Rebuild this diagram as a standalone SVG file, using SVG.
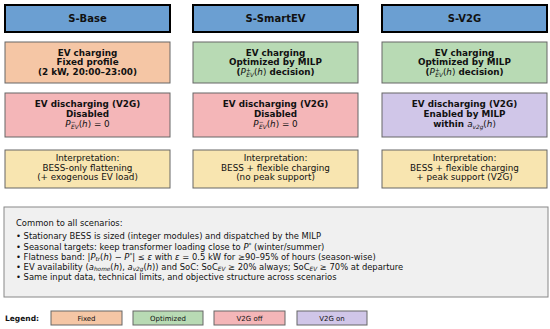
<svg xmlns="http://www.w3.org/2000/svg" width="550" height="329" viewBox="0 0 550 329">
<style>
text{font-family:"DejaVu Sans","Liberation Sans",sans-serif;fill:#111}
.hd{fill:#6b9fd2;stroke:#000;stroke-width:2}
.bx{stroke:#666;stroke-width:1}
.fx{fill:#f5c6a5}.op{fill:#b8dab4}.off{fill:#f4b6b8}.on{fill:#d0c6e8}.ip{fill:#f8e5b0}
.ht{font-size:10px;font-weight:bold;text-anchor:middle}
.bt{font-size:8.8px;font-weight:bold;text-anchor:middle}
.nt{font-size:8.8px;text-anchor:middle}
.ct{font-size:8.4px}
.lg{font-size:7px;text-anchor:middle}
.it{font-style:italic}
.sb{font-size:5.8px}
</style>
<rect width="550" height="329" fill="#fff"/>
<g id="col-base">
<g id="h-base"><rect class="hd" x="5" y="5" width="165" height="27"/><text class="ht" x="87.5" y="22">S-Base</text></g>
<g id="c-base"><rect class="bx fx" x="5" y="42" width="165" height="41"/>
<text class="bt" x="87.5" y="55.5">EV charging</text><text class="bt" x="87.5" y="65.3">Fixed profile</text><text class="bt" x="87.5" y="75.2">(2 kW, 20:00–23:00)</text></g>
<g id="d-base"><rect class="bx off" x="5" y="93" width="165" height="44"/>
<text class="bt" x="87.5" y="107.3">EV discharging (V2G)</text><text class="bt" x="87.5" y="117">Disabled</text>
<text class="nt" x="87.5" y="127"><tspan class="it">P</tspan><tspan class="it sb" dy="-3">−</tspan><tspan class="it sb" dx="-4.5" dy="5">EV</tspan><tspan dy="-2">(</tspan><tspan class="it">h</tspan>) = 0</text></g>
<g id="i-base"><rect class="bx ip" x="5" y="150" width="165" height="38"/>
<text class="nt" x="87.5" y="161">Interpretation:</text><text class="nt" x="87.5" y="170.5">BESS-only flattening</text><text class="nt" x="87.5" y="180">(+ exogenous EV load)</text></g>
</g>
<g id="col-smart">
<g id="h-smart"><rect class="hd" x="193" y="5" width="165" height="27"/><text class="ht" x="275.5" y="22">S-SmartEV</text></g>
<g id="c-smart"><rect class="bx op" x="193" y="42" width="165" height="41"/>
<text class="bt" x="275.5" y="55.5">EV charging</text><text class="bt" x="275.5" y="65.3">Optimized by MILP</text>
<text class="bt" x="275.5" y="75.2">(<tspan class="it" font-weight="normal">P</tspan><tspan class="it sb" font-weight="normal" dy="-3">+</tspan><tspan class="it sb" font-weight="normal" dx="-4.5" dy="5">EV</tspan><tspan font-weight="normal" dy="-2">(</tspan><tspan class="it" font-weight="normal">h</tspan><tspan font-weight="normal">)</tspan> decision)</text></g>
<g id="d-smart"><rect class="bx off" x="193" y="93" width="165" height="44"/>
<text class="bt" x="275.5" y="107.3">EV discharging (V2G)</text><text class="bt" x="275.5" y="117">Disabled</text>
<text class="nt" x="275.5" y="127"><tspan class="it">P</tspan><tspan class="it sb" dy="-3">−</tspan><tspan class="it sb" dx="-4.5" dy="5">EV</tspan><tspan dy="-2">(</tspan><tspan class="it">h</tspan>) = 0</text></g>
<g id="i-smart"><rect class="bx ip" x="193" y="150" width="165" height="38"/>
<text class="nt" x="275.5" y="161">Interpretation:</text><text class="nt" x="275.5" y="170.5">BESS + flexible charging</text><text class="nt" x="275.5" y="180">(no peak support)</text></g>
</g>
<g id="col-v2g">
<g id="h-v2g"><rect class="hd" x="382" y="5" width="165" height="27"/><text class="ht" x="464.5" y="22">S-V2G</text></g>
<g id="c-v2g"><rect class="bx op" x="382" y="42" width="165" height="41"/>
<text class="bt" x="464.5" y="55.5">EV charging</text><text class="bt" x="464.5" y="65.3">Optimized by MILP</text>
<text class="bt" x="464.5" y="75.2">(<tspan class="it" font-weight="normal">P</tspan><tspan class="it sb" font-weight="normal" dy="-3">+</tspan><tspan class="it sb" font-weight="normal" dx="-4.5" dy="5">EV</tspan><tspan font-weight="normal" dy="-2">(</tspan><tspan class="it" font-weight="normal">h</tspan><tspan font-weight="normal">)</tspan> decision)</text></g>
<g id="d-v2g"><rect class="bx on" x="382" y="93" width="165" height="44"/>
<text class="bt" x="464.5" y="107.3">EV discharging (V2G)</text><text class="bt" x="464.5" y="117">Enabled by MILP</text>
<text class="bt" x="464.5" y="127">within <tspan class="it" font-weight="normal">a</tspan><tspan class="it sb" font-weight="normal" dy="1.5">v2g</tspan><tspan font-weight="normal" dy="-1.5">(</tspan><tspan class="it" font-weight="normal">h</tspan><tspan font-weight="normal">)</tspan></text></g>
<g id="i-v2g"><rect class="bx ip" x="382" y="150" width="165" height="38"/>
<text class="nt" x="464.5" y="161">Interpretation:</text><text class="nt" x="464.5" y="170.5">BESS + flexible charging</text><text class="nt" x="464.5" y="180">+ peak support (V2G)</text></g>
</g>
<g id="common">
<rect x="4" y="207" width="544" height="90" fill="#f0f0f0" stroke="#888" stroke-width="1"/>
<text class="ct" x="16" y="225.5">Common to all scenarios:</text>
<text class="ct" x="16" y="239">• Stationary BESS is sized (integer modules) and dispatched by the MILP</text>
<text class="ct" x="16" y="249.5">• Seasonal targets: keep transformer loading close to <tspan class="it">P</tspan><tspan class="sb" dy="-3">*</tspan><tspan dy="3"> (winter/summer)</tspan></text>
<text class="ct" x="16" y="259.5">• Flatness band: |<tspan class="it">P</tspan><tspan class="it sb" dy="1.5">tr</tspan><tspan dy="-1.5">(</tspan><tspan class="it">h</tspan>) − <tspan class="it">P</tspan><tspan class="sb" dy="-3">*</tspan><tspan dy="3">| ≤ </tspan><tspan class="it">ε</tspan> with <tspan class="it">ε</tspan> = 0.5 kW for ≥90–95% of hours (season-wise)</text>
<text class="ct" x="16" y="269.5">• EV availability (<tspan class="it">a</tspan><tspan class="it sb" dy="1.5">home</tspan><tspan dy="-1.5">(</tspan><tspan class="it">h</tspan>), <tspan class="it">a</tspan><tspan class="it sb" dy="1.5">v2g</tspan><tspan dy="-1.5">(</tspan><tspan class="it">h</tspan>)) and SoC: SoC<tspan class="it sb" dy="1.5">EV</tspan><tspan dy="-1.5"> ≥ 20% always; SoC</tspan><tspan class="it sb" dy="1.5">EV</tspan><tspan dy="-1.5"> ≥ 70% at departure</tspan></text>
<text class="ct" x="16" y="280">• Same input data, technical limits, and objective structure across scenarios</text>
</g>
<g id="legend">
<text x="5" y="321" font-size="7.5" font-weight="bold">Legend:</text>
<rect class="bx fx" x="51" y="311" width="71" height="14"/><text class="lg" x="86.5" y="320.5">Fixed</text>
<rect class="bx op" x="133" y="311" width="70" height="14"/><text class="lg" x="168" y="320.5">Optimized</text>
<rect class="bx off" x="214" y="311" width="71" height="14"/><text class="lg" x="249.5" y="320.5">V2G off</text>
<rect class="bx on" x="297" y="311" width="70" height="14"/><text class="lg" x="332" y="320.5">V2G on</text>
</g>
<g id="connectors"></g>
</svg>
